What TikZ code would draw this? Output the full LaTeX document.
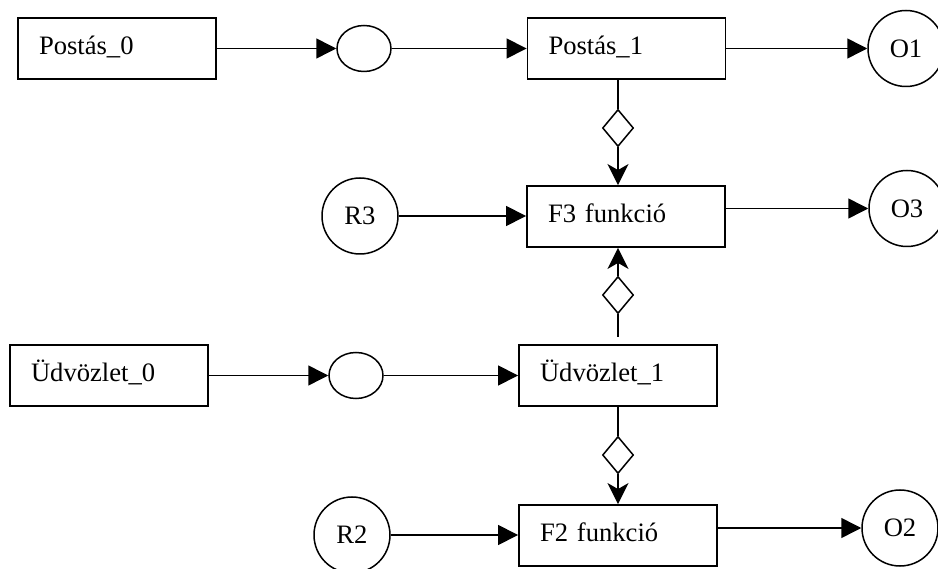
\documentclass[tikz,border=0pt]{standalone}
\usepackage{fontspec}
\setmainfont{Liberation Serif}
\usetikzlibrary{shapes.geometric,arrows.meta}
\begin{document}
\begin{tikzpicture}[x=1pt,y=-1pt,
  every node/.style={font=\fontsize{26.6}{30}\selectfont},
  box/.style={draw, line width=1.9pt, rectangle, inner xsep=21pt, inner ysep=0pt,
    text width=156pt, align=left, minimum height=61pt, text height=18pt, text depth=6pt},
  circ/.style={draw, line width=1.5pt, circle, minimum size=76pt, inner sep=0pt},
  oval/.style={draw, line width=1.5pt, ellipse, minimum width=54pt, minimum height=46pt, inner sep=0pt},
  dia/.style={draw, line width=1.5pt, diamond, minimum width=31pt, minimum height=37pt, inner sep=0pt},
  conn/.style={line width=1.5pt},
  arr/.style={conn, -{Triangle[length=20pt,width=20pt]}},
  varr/.style={conn, -{Stealth[length=21pt,width=21pt,inset=6pt]}}
]
\clip (0,0) rectangle (938,569);
\fill[white] (0,0) rectangle (938,569);

% boxes
\node[box] (p0) at (117,48.5) {Postás\_0};
\node[box] (p1) at (626.5,48.5) {Postás\_1};
\node[box] (f3) at (626,216.5) {F3 funkció};
\node[box] (u0) at (109,375.5) {Üdvözlet\_0};
\node[box] (u1) at (618,375.5) {Üdvözlet\_1};
\node[box] (f2) at (618,535.5) {F2 funkció};

% ellipses
\node[oval] (e1) at (364,48.5) {};
\node[oval] (e2) at (356,375.5) {};

% circles
\node[circ] (o1) at (906,48.5) {O1};
\node[circ] (o3) at (907,208.5) {O3};
\node[circ] (o2) at (900,528) {O2};
\node[circ] (r3) at (360,216) {R3};
\node[circ] (r2) at (352,535) {R2};

% diamonds
\node[dia] (d1) at (618,128) {};
\node[dia] (d2) at (618,295) {};
\node[dia] (d3) at (618,455) {};

% horizontal connectors
\draw[arr] (p0.east) -- (e1.west);
\draw[arr] (e1.east) -- (p1.west);
\draw[arr] (p1.east) -- (o1.west);
\draw[arr] (r3.east) -- (r3.east -| f3.west);
\draw[arr] (f3.east |- o3) -- (o3.west);
\draw[arr] (u0.east) -- (e2.west);
\draw[arr] (e2.east) -- (u1.west);
\draw[arr] (r2.east) -- (r2.east -| f2.west);
\draw[arr] (f2.east |- o2) -- (o2.west);

% vertical connectors
\draw[conn] (d1.north |- p1.south) -- (d1.north);
\draw[varr] (d1.south) -- (d1.south |- f3.north);
\draw[varr] (d2.north) -- (d2.north |- f3.south);
\draw[conn, shorten >=7pt] (d2.south) -- (d2.south |- u1.north);
\draw[conn] (d3.north |- u1.south) -- (d3.north);
\draw[varr] (d3.south) -- (d3.south |- f2.north);
\end{tikzpicture}
\end{document}
